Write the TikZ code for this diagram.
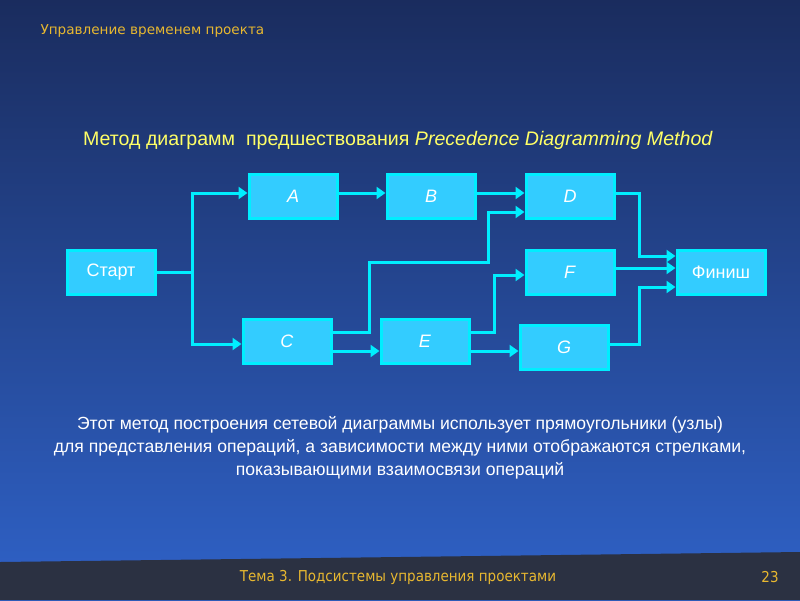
\documentclass[tikz,border=0pt]{standalone}
\usepackage{fontspec}
\setmainfont{Liberation Sans}
\newfontfamily\hdrfont{DejaVu Sans}
\newfontfamily\ftrfont{DejaVu Sans Condensed}
\usetikzlibrary{arrows.meta}
\definecolor{bgtop}{HTML}{1A2C5E}
\definecolor{bgbot}{HTML}{2F62C8}
\definecolor{ftrbg}{HTML}{2B3142}
\definecolor{boxfill}{HTML}{33CCFF}
\definecolor{boxline}{HTML}{00EEFF}
\definecolor{gold}{HTML}{E8B830}
\definecolor{titleyel}{HTML}{FFFF66}
\tikzset{
  box/.style={draw=boxline, line width=3pt, fill=boxfill, minimum width=88pt, minimum height=44pt, inner sep=0pt, text=white, font=\fontsize{18}{20}\selectfont},
  conn/.style={draw=boxline, line width=3pt},
  arr/.style={conn, -{Triangle[length=9pt,width=12pt]}},
}
\begin{document}
\begin{tikzpicture}[x=1pt,y=-1pt]
\useasboundingbox (0,0) rectangle (800,600);
\shade[top color=bgtop, bottom color=bgbot] (0,0) rectangle (800,600);
\fill[ftrbg] (0,562) -- (800,552) -- (800,600) -- (0,600) -- cycle;
\node[anchor=west, text=gold, font=\hdrfont\fontsize{13.6}{16}\selectfont] (hdr) at (37,31) {Управление временем проекта};
\node[text=titleyel, font=\fontsize{19.6}{22}\selectfont] (title) at (398,140) {Метод диаграмм\ \ предшествования \textit{Precedence Diagramming Method}};
% nodes
\node[box] (S) at (111,272) {Старт};
\node[box] (A) at (293,196) {\textit{A}};
\node[box] (B) at (431,196) {\textit{B}};
\node[box] (D) at (570,196) {\textit{D}};
\node[box] (C) at (287,341) {\textit{C}};
\node[box] (E) at (425,341) {\textit{E}};
\node[box] (F) at (570,272) {\textit{F}};
\node[box] (G) at (564,347) {\textit{G}};
\node[box] (Fin) at (721,272) {Финиш};
% connectors
\draw[arr] (S.east) -- (192,272) |- ([yshift=3pt]A.west);
\draw[arr] (S.east) -- (192,272) |- ([yshift=-3pt]C.west);
\draw[arr] ([yshift=3pt]A.east) -- ([yshift=3pt]B.west);
\draw[arr] ([yshift=3pt]B.east) -- ([yshift=3pt]D.west);
\draw[arr] ([yshift=9pt]C.east) -| (369,262) -| (488,212) -- ([yshift=-16pt]D.west);
\draw[arr] ([yshift=-10pt]C.east) -- ([yshift=-10pt]E.west);
\draw[arr] ([yshift=9pt]E.east) -| (494,275) -- ([yshift=-3pt]F.west);
\draw[arr] ([yshift=-10pt]E.east) -- ([yshift=-4pt]G.west);
\draw[arr] ([yshift=3pt]D.east) -| (639,256) -- ([yshift=16pt]Fin.west);
\draw[arr] ([yshift=4pt]F.east) -- ([yshift=4pt]Fin.west);
\draw[arr] ([yshift=3pt]G.east) -| (639,287) -- ([yshift=-15pt]Fin.west);
% body text
\node[text=white, align=center, font=\fontsize{17.6}{23}\selectfont] (body) at (400,448) {Этот метод построения сетевой диаграммы использует прямоугольники (узлы)\\для представления операций, а зависимости между ними отображаются стрелками,\\показывающими взаимосвязи операций};
\node[text=gold, font=\ftrfont\fontsize{15}{17}\selectfont] (ftr) at (398,577) {Тема 3. Подсистемы управления проектами};
\node[text=gold, font=\ftrfont\fontsize{15}{17}\selectfont] (pg) at (770,577) {23};
\end{tikzpicture}
\end{document}
